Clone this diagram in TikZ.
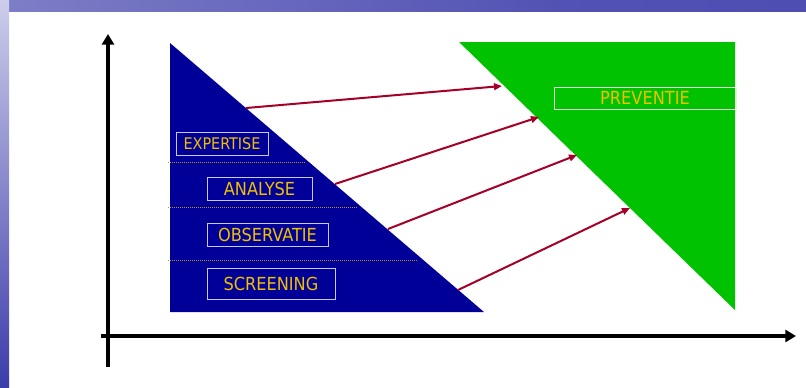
\documentclass[tikz,border=0pt]{standalone}
\usepackage{fontspec}
\setmainfont{DejaVu Sans Condensed}
\usetikzlibrary{arrows.meta}
\definecolor{triblue}{RGB}{0,0,153}
\definecolor{trigreen}{RGB}{0,194,0}
\definecolor{gold}{RGB}{240,192,0}
\definecolor{arrred}{RGB}{165,0,40}
\definecolor{boxedge}{RGB}{200,200,240}
\definecolor{sepgold}{RGB}{185,145,35}
\definecolor{frameL}{RGB}{205,205,235}
\definecolor{frameB}{RGB}{60,60,170}
\pgfdeclarehorizontalshading{topframe}{100bp}{
  color(0bp)=(frameL);
  color(25bp)=(frameL!45!frameB);
  color(60bp)=(frameL!15!frameB);
  color(100bp)=(frameL!8!frameB)}
\tikzset{
  lvl/.style={draw=boxedge, line width=0.75pt, text=gold, font=\fontsize{13.5}{14}\selectfont, inner sep=0pt, minimum height=17.25pt},
  flow/.style={draw=arrred, line width=1.5pt, -{Triangle[length=6pt,width=5pt]}},
  axis/.style={draw=black, line width=2.6pt, -{Triangle[length=8pt,width=9pt]}},
  sep/.style={draw=sepgold, line width=0.75pt, dash pattern=on 0.75pt off 0.75pt}
}
\begin{document}
\begin{tikzpicture}[x=0.75pt,y=-0.75pt]
\useasboundingbox (0,0) rectangle (806,387);
% frame
\fill[white] (0,0) rectangle (806,387);
\shade[shading=topframe] (0,0) rectangle (806,11);
\shade[top color=frameL, bottom color=frameB] (0,0) rectangle (9,387);
% triangles
\fill[triblue] (170,43) -- (484,312) -- (170,312) -- cycle;
\fill[trigreen] (459,42) -- (735,42) -- (735,310) -- cycle;
% separators
\draw[sep] (168,162.5) -- (306,162.5);
\draw[sep] (168,207.5) -- (358,207.5);
\draw[sep] (168,260.5) -- (418,260.5);
% level boxes
\node[lvl, minimum width=69pt, font=\fontsize{12}{13}\selectfont] (expertise) at (222,143.5) {EXPERTISE};
\node[lvl, minimum width=78.75pt] (analyse) at (259.5,188.5) {ANALYSE};
\node[lvl, minimum width=90.75pt] (observatie) at (267.5,234.5) {OBSERVATIE};
\node[lvl, minimum width=96pt, minimum height=23.25pt] (screening) at (271,283.5) {SCREENING};
\node[lvl, draw=white!85!trigreen, minimum width=136.5pt, minimum height=16.5pt] (preventie) at (645,98) {PREVENTIE};
% arrow endpoints
\coordinate (a1) at (246,108); \coordinate (b1) at (502,86);
\coordinate (a2) at (335,184); \coordinate (b2) at (539,117);
\coordinate (a3) at (388,229); \coordinate (b3) at (577,155);
\coordinate (a4) at (458,290); \coordinate (b4) at (630,208);
\draw[flow] (a1) -- (b1);
\draw[flow] (a2) -- (b2);
\draw[flow] (a3) -- (b3);
\draw[flow] (a4) -- (b4);
% axes
\coordinate (yb) at (108,367); \coordinate (yt) at (108,34);
\coordinate (xl) at (101,336); \coordinate (xr) at (796,336);
\draw[axis] (yb) -- (yt);
\draw[axis] (xl) -- (xr);
\end{tikzpicture}
\end{document}
